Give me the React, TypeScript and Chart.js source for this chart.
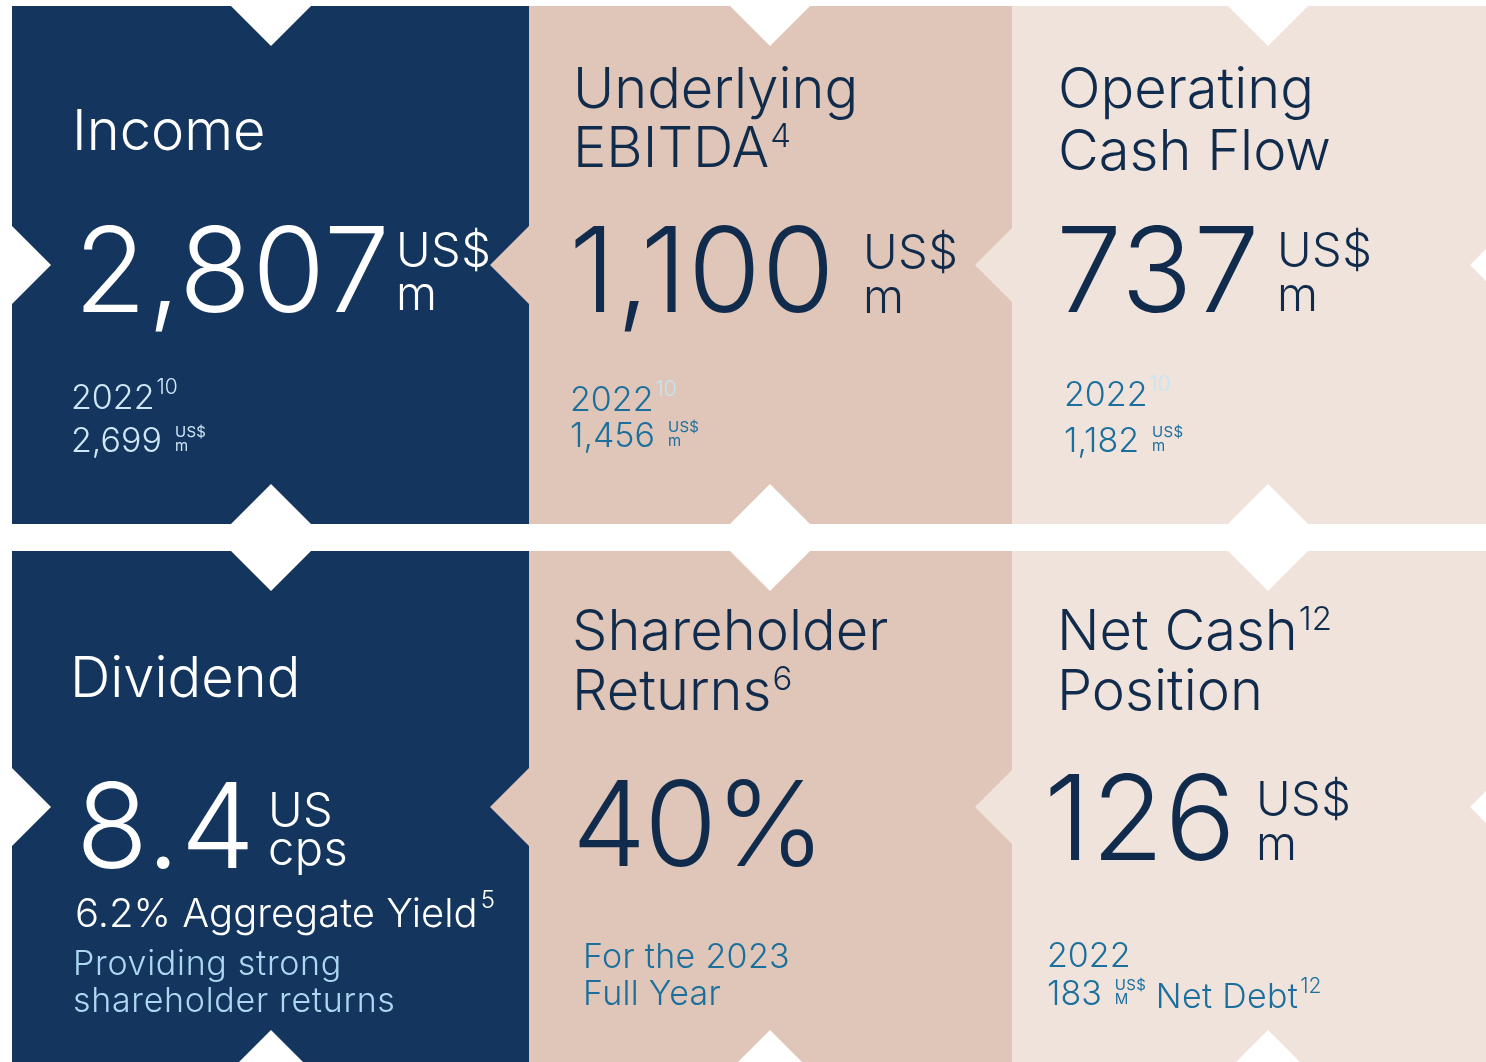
import { useEffect, useRef } from "react";
import { Chart, registerables } from "chart.js";
Chart.register(...registerables);

// ---- data ----
const panelTitles: string[][] = [
  ["Income"],
  ["Underlying", "EBITDA"],
  ["Operating", "Cash Flow"],
  ["Dividend"],
  ["Shareholder", "Returns"],
  ["Net Cash", "Position"],
];
const titleNotes = ["", "4", "", "", "6", "12"];
const titleNoteLine = [0, 1, 0, 0, 1, 0];
const headlineValues = ["2,807", "1,100", "737", "8.4", "40%", "126"];
const headlineUnits: string[][] = [["US$", "m"], ["US$", "m"], ["US$", "m"], ["US", "cps"], [], ["US$", "m"]];
const priorLabels = ["2022", "2022", "2022", "", "", "2022"];
const priorNotes = ["10", "10", "10", "", "", ""];
const priorValues = ["2,699", "1,456", "1,182", "", "", "183"];
const priorUnits: string[][] = [["US$", "m"], ["US$", "m"], ["US$", "m"], [], [], ["US$", "M"]];
const priorSuffix = ["", "", "", "", "", "Net Debt"];
const priorSuffixNote = ["", "", "", "", "", "12"];
const yieldLine = ["6.2% Aggregate Yield", "5"];
const dividendCaption = ["Providing strong", "shareholder returns"];
const returnsCaption = ["For the 2023", "Full Year"];

// ---- styles ----
const NAVY = "#14365e";
const TAN = "#dfc6b8";
const LIGHT = "#f0e3dc";
const INK = "#102b4c";
const BLUE = "#1b6f9d";
const PALE = "#c6e5f3";
const FONT = "Inter";

type Lay = {
  tx: number; tb: number[]; vx: number; vb: number; ux: number; ub: number[];
  px?: number; pb?: number; pvb?: number;
};
const lays: Lay[] = [
  { tx: 72, tb: [150], vx: 74, vb: 312, ux: 396, ub: [266, 310], px: 71, pb: 409, pvb: 452 },
  { tx: 573, tb: [108, 167], vx: 569, vb: 312, ux: 863, ub: [268, 313], px: 570, pb: 411, pvb: 447 },
  { tx: 1058, tb: [108, 170], vx: 1056, vb: 312, ux: 1277, ub: [266, 311], px: 1064, pb: 406, pvb: 452 },
  { tx: 70, tb: [697], vx: 76, vb: 868, ux: 268, ub: [826, 865] },
  { tx: 572, tb: [650, 710], vx: 572, vb: 866, ux: 0, ub: [] },
  { tx: 1057, tb: [650, 710], vx: 1044, vb: 860, ux: 1256, ub: [815, 860], px: 1047, pb: 967, pvb: 1005 },
];

const panelPlugin = {
  id: "kpiPanels",
  beforeDraw(chart: any) {
    const ctx: CanvasRenderingContext2D = chart.ctx;
    const W = chart.width, H = chart.height;
    ctx.save();
    ctx.fillStyle = "#ffffff";
    ctx.fillRect(0, 0, W, H);
    const cols = [12, 529, 1012, 1524];
    const rows = [[6, 524], [551, 1070]];
    const colors = [NAVY, TAN, LIGHT];
    const N = 39;
    const tri = (pts: number[][], c: string) => {
      ctx.fillStyle = c;
      ctx.beginPath();
      ctx.moveTo(pts[0][0], pts[0][1]);
      for (let i = 1; i < pts.length; i++) ctx.lineTo(pts[i][0], pts[i][1]);
      ctx.closePath();
      ctx.fill();
    };
    rows.forEach(([t, b], ri) => {
      const cy = ri === 0 ? 265 : 807;
      for (let c = 0; c < 3; c++) {
        ctx.fillStyle = colors[c];
        ctx.fillRect(cols[c], t, cols[c + 1] - cols[c], b - t);
      }
      tri([[12, cy - N], [12 + N, cy], [12, cy + N]], "#ffffff");
      tri([[529, cy - N], [529 - N, cy], [529, cy + N]], TAN);
      tri([[1012, cy - 37], [1012 - 37, cy], [1012, cy + 37]], LIGHT);
      tri([[1509, cy - N], [1470, cy], [1509, cy + N]], "#ffffff");
      [271, 770, 1268].forEach((cx) => {
        tri([[cx - N - 1, t], [cx, t + N + 1], [cx + N + 1, t]], "#ffffff");
        tri([[cx - N - 1, b], [cx, b - N - 1], [cx + N + 1, b]], "#ffffff");
      });
    });

    const text = (s: string, x: number, y: number, size: number, color: string, weight = 300, sp = 0) => {
      ctx.font = `${weight} ${size}px ${FONT}`;
      (ctx as any).letterSpacing = `${sp}px`;
      ctx.fillStyle = color;
      ctx.textBaseline = "alphabetic";
      ctx.textAlign = "left";
      ctx.fillText(s, x, y);
      return ctx.measureText(s).width;
    };

    for (let i = 0; i < 6; i++) {
      const L = lays[i];
      const onNavy = i === 0 || i === 3;
      const main = onNavy ? "#ffffff" : INK;
      const sub = onNavy ? "#cfe7f6" : BLUE;
      // title
      panelTitles[i].forEach((line, li) => {
        const w = text(line, L.tx, L.tb[li], 56, main, 300, 0);
        if (titleNotes[i] && titleNoteLine[i] === li) {
          text(titleNotes[i], L.tx + w + 1, L.tb[li] - 20, 33, main, 300, 0);
        }
      });
      // headline
      text(headlineValues[i], L.vx, L.vb, 118, main, 300, i === 4 ? -2 : 1);
      headlineUnits[i].forEach((u, ui) => {
        text(u, L.ux, L.ub[ui], 47, main, 300, 0.5);
      });
      // prior year
      if (priorLabels[i] && L.px !== undefined) {
        const lw = text(priorLabels[i], L.px, L.pb!, 34, sub, 300, 0);
        if (priorNotes[i]) text(priorNotes[i], L.px + lw + 2, L.pb! - 15, 21, onNavy ? "#cfe7f6" : PALE, 300, 0);
        const pw = text(priorValues[i], L.px, L.pvb!, 34, sub, 300, 0);
        const ux = L.px + pw + 13;
        priorUnits[i].forEach((u, ui) => {
          text(u, ux, L.pvb! - 15 + ui * 14, 15, sub, 400, 0.3);
        });
        if (priorSuffix[i]) {
          const sx = ux + 41;
          const sw = text(priorSuffix[i], sx, L.pvb! + 3, 34, sub, 300, 0.3);
          text(priorSuffixNote[i], sx + sw + 2, L.pvb! - 12, 21, sub, 300, 0);
        }
      }
    }
    // dividend detail
    const yw = text(yieldLine[0], 75, 927, 40, "#ffffff", 300, 0);
    text(yieldLine[1], 75 + yw + 3, 908, 24, "#ffffff", 300, 0);
    dividendCaption.forEach((s, k) => text(s, 73, 975 + k * 37, 34, "#acd9f1", 300, 0.7));
    returnsCaption.forEach((s, k) => text(s, 583, 968 + k * 37, 34, BLUE, 300, 0.3));
    ctx.restore();
  },
};

export default function App() {
  const ref = useRef<HTMLCanvasElement | null>(null);
  useEffect(() => {
    document.body.style.margin = "0";
    const chart = new Chart(ref.current!, {
      type: "bar",
      data: { labels: panelTitles.map((t) => t.join(" ")), datasets: [] },
      options: {
        animation: false,
        responsive: false,
        layout: { padding: 0 },
        plugins: { legend: { display: false }, tooltip: { enabled: false } },
        scales: { x: { display: false }, y: { display: false } },
      },
      plugins: [panelPlugin],
    });
    return () => chart.destroy();
  }, []);
  return (
    <div style={{ width: 1486, height: 1062 }}>
      <canvas ref={ref} width={1486} height={1062} style={{ display: "block" }} />
    </div>
  );
}
